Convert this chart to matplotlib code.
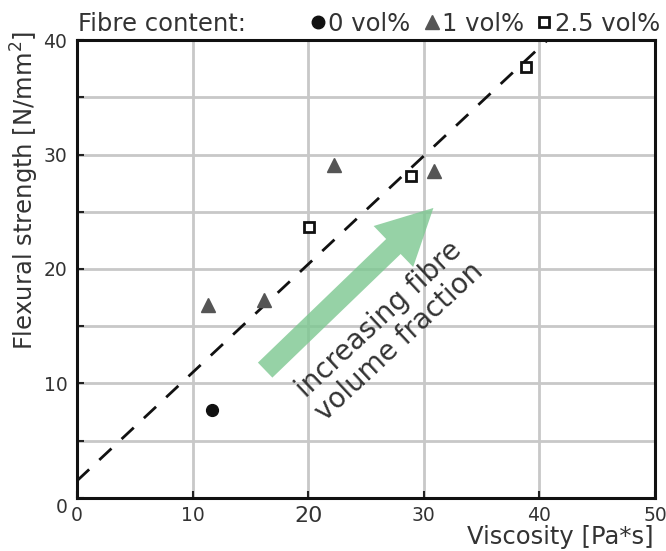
import numpy as np
import matplotlib.pyplot as plt
from matplotlib.lines import Line2D

# data
visc_0 = [11.7]
flex_0 = [7.7]
visc_1 = [11.3, 16.2, 22.2, 30.9]
flex_1 = [16.85, 17.3, 29.1, 28.55]
visc_25 = [20.05, 28.9, 38.8]
flex_25 = [23.7, 28.1, 37.6]
trend_x = [0.0, 40.7]
trend_y = [1.5, 40.0]
legend_labels = ['0 vol%', '1 vol%', '2.5 vol%']

txt = '#333333'
plt.rcParams['font.family'] = 'DejaVu Sans'

fig = plt.figure(figsize=(6.66, 5.51), dpi=100)
ax = fig.add_axes([0.1156, 0.0962, 0.868, 0.8312])

ax.set_xlim(0, 50)
ax.set_ylim(0, 40)
ax.set_xticks([0, 10, 20, 30, 40, 50])
ax.set_yticks([0, 10, 20, 30, 40])
ax.set_yticks([5, 15, 25, 35], minor=True)
ax.grid(True, which='major', color='#c8c8c8', lw=2)
ax.grid(True, which='minor', axis='y', color='#c8c8c8', lw=2)
ax.set_axisbelow(True)
ax.tick_params(which='both', direction='in', length=5, width=1.5, color='#222222',
               labelsize=13.5, labelcolor=txt)
ax.tick_params(axis='x', pad=6)
ax.tick_params(axis='y', pad=7)
for s in ax.spines.values():
    s.set_linewidth(2.2)
    s.set_color('#111111')
for lab in ax.get_xticklabels():
    if lab.get_text() == '20':
        lab.set_fontsize(16)
for lab in ax.get_yticklabels():
    if lab.get_text() == '0':
        lab.set_va('top')

# trend line
ax.plot(trend_x, trend_y, ls=(0, (6, 5)), color='#111111', lw=2, zorder=3)

# arrow
ax.annotate('', xy=(31.0, 25.5), xytext=(16.1, 11.0),
            arrowprops=dict(arrowstyle='simple,head_length=2.0,head_width=2.05,tail_width=0.75',
                            color='#7cc790', alpha=0.8, lw=0, mutation_scale=20), zorder=4)
ax.text(27.0, 14.6, 'increasing fibre\nvolume fraction', rotation=43, ha='center', va='center',
        fontsize=20, color=txt, linespacing=1.1, rotation_mode='anchor', zorder=5)

ax.plot(visc_0, flex_0, 'o', color='#111111', ms=8.5, zorder=6)
ax.plot(visc_1, flex_1, '^', color='#555555', ms=10.5, zorder=6)
ax.plot(visc_25, flex_25, 's', mfc='white', mec='#111111', mew=2, ms=7, zorder=6)

ax.set_xlabel('Viscosity [Pa*s]', fontsize=17.5, color=txt)
ax.xaxis.set_label_coords(0.997, -0.058)
ax.xaxis.label.set_ha('right')
ax.set_ylabel('Flexural strength [N/mm$^2$]', fontsize=17.5, color=txt)
ax.yaxis.set_label_coords(-0.062, 0.672)

# legend row above the axes
y_base = 1 - 31 / 551
y_mark = 1 - 22 / 551
fig.text(78 / 666, y_base, 'Fibre content:', fontsize=17.5, color=txt, va='baseline')
handles = [dict(marker='o', color='#111111', ms=9),
           dict(marker='^', color='#555555', ms=10.5),
           dict(marker='s', mfc='white', mec='#111111', mew=2, ms=6.5)]
mark_x = [318, 432, 544]
text_x = [328, 442, 555]
for h, mx, tx, lab in zip(handles, mark_x, text_x, legend_labels):
    fig.add_artist(Line2D([mx / 666], [y_mark], ls='', transform=fig.transFigure, **h))
    fig.text(tx / 666, y_base, lab, fontsize=17.5, color=txt, va='baseline')

fig.savefig('out.png', dpi=100)
